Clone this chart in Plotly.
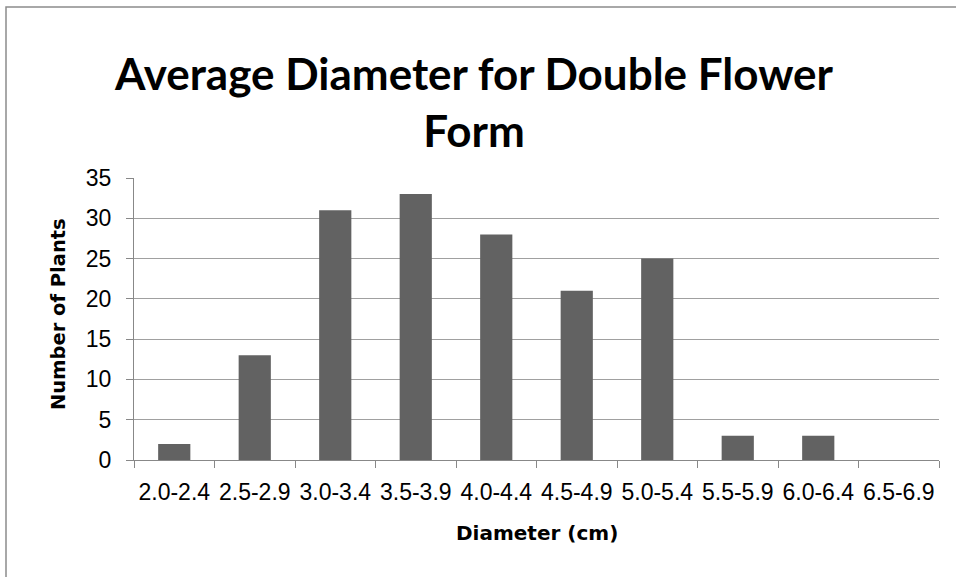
import plotly.graph_objects as go

categories = ["2.0-2.4", "2.5-2.9", "3.0-3.4", "3.5-3.9", "4.0-4.4",
              "4.5-4.9", "5.0-5.4", "5.5-5.9", "6.0-6.4", "6.5-6.9"]
counts = [2, 13, 31, 33, 28, 21, 25, 3, 3, 0]
y_ticks = [0, 5, 10, 15, 20, 25, 30, 35]

W, H = 956, 577
L, R, T, B = 134, 17, 178, 117
pw, ph = W - L - R, H - T - B

def px_x(x):
    return (x - L) / pw

def px_y(y):
    return (H - B - y) / ph

TITLE_FONT = "Lato"
TICK_FONT = "Liberation Sans Narrow, Liberation Sans"
AXT_FONT = "DejaVu Sans"

fig = go.Figure(go.Bar(
    x=categories, y=counts,
    marker=dict(color="#626262", line=dict(width=0)),
    width=0.4,
))

fig.update_layout(
    width=W, height=H,
    margin=dict(l=L, r=R, t=T, b=B, pad=0),
    paper_bgcolor="white", plot_bgcolor="white",
    showlegend=False,
    font=dict(family=TICK_FONT, color="black"),
    title=dict(
        text="<b>Average Diameter for Double Flower<br>Form</b>",
        x=474 / W, xref="container", xanchor="center",
        y=1 - 90 / H, yref="container", yanchor="middle",
        font=dict(family=TITLE_FONT, size=44, color="black"),
    ),
    xaxis=dict(
        type="category",
        tickson="boundaries",
        tickangle=0,
        automargin=False,
        ticks="outside", ticklen=7, tickcolor="#888888", tickwidth=1,
        showline=True, linecolor="#888888", linewidth=1,
        showgrid=False,
        ticklabelstandoff=11,
        tickfont=dict(family=TICK_FONT, size=23, color="black"),
        range=[-0.5, 9.5],
    ),
    yaxis=dict(
        range=[0, 35],
        tickvals=y_ticks,
        automargin=False,
        ticks="outside", ticklen=7, tickcolor="#888888", tickwidth=1,
        showline=True, linecolor="#888888", linewidth=1,
        showgrid=True, gridcolor="#a0a0a0", gridwidth=1,
        zeroline=False,
        ticklabelstandoff=10,
        tickfont=dict(family=TICK_FONT, size=23, color="black"),
    ),
    annotations=[
        dict(text="<b>Diameter (cm)</b>", xref="paper", yref="paper",
             x=px_x(537), y=px_y(533), xanchor="center", yanchor="middle",
             showarrow=False, font=dict(family=AXT_FONT, size=20, color="black")),
        dict(text="<b>Number of Plants</b>", xref="paper", yref="paper",
             x=px_x(58), y=px_y(314), xanchor="center", yanchor="middle",
             textangle=-90, showarrow=False,
             font=dict(family=AXT_FONT, size=19.5, color="black")),
    ],
    shapes=[dict(
        type="rect", xref="paper", yref="paper",
        x0=px_x(6), x1=px_x(W + 5), y0=px_y(H + 5), y1=px_y(7),
        line=dict(color="#8c8c8c", width=1.5), fillcolor="rgba(0,0,0,0)",
        layer="below",
    )],
)

fig.write_html("out.html", config={"displayModeBar": False},
               post_script="document.body.style.margin='0';document.body.style.overflow='hidden';")
